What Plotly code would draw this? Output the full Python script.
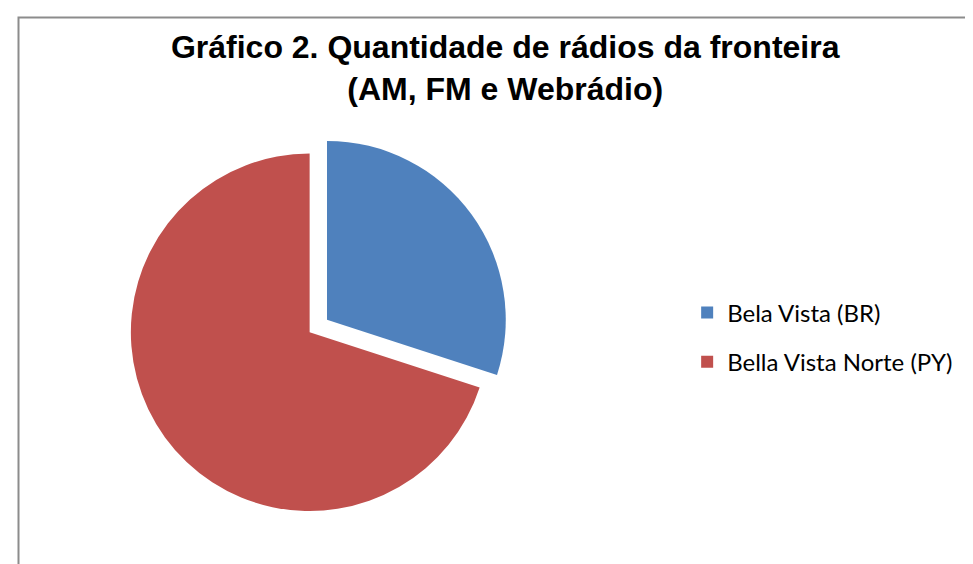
import plotly.graph_objects as go

categories = ["Bela Vista (BR)", "Bella Vista Norte (PY)"]
values = [3, 7]
colors = ["#4F81BD", "#C0504D"]
pulls = [0.12, 0]

fig = go.Figure()
fig.add_trace(go.Pie(
    labels=categories, values=values, sort=False, direction="clockwise",
    rotation=0, pull=pulls, textinfo="none", showlegend=False,
    marker=dict(colors=colors, line=dict(width=0)),
    domain=dict(x=[0.04, 0.58], y=[0.07, 0.78]),
))
for name, col in zip(categories, colors):
    fig.add_trace(go.Scatter(
        x=[None], y=[None], mode="markers", name=name, legendgroup=name,
        marker=dict(symbol="square", size=15, color=col),
    ))

fig.update_layout(
    width=973, height=564,
    margin=dict(l=0, r=0, t=0, b=0),
    paper_bgcolor="white", plot_bgcolor="white",
    title=dict(
        text="<b>Gráfico 2. Quantidade de rádios da fronteira<br>(AM, FM e Webrádio)</b>",
        x=0.511, xanchor="center", y=1 - 50 / 564, yanchor="top",
        font=dict(family="Liberation Sans, Arial", size=32, color="black"),
    ),
    xaxis=dict(visible=False), yaxis=dict(visible=False),
    legend=dict(
        x=0.698, xanchor="left", y=1 - 329.5 / 564, yanchor="middle",
        font=dict(family="Lato, Open Sans", size=24, color="black"),
        tracegroupgap=15, itemsizing="constant",
    ),
    shapes=[dict(type="rect", xref="paper", yref="paper",
                 x0=10.5 / 973, x1=1.02, y0=-0.02, y1=1 - 9.5 / 564,
                 line=dict(color="#8c8c8c", width=2))],
)
fig.write_html("out.html")
